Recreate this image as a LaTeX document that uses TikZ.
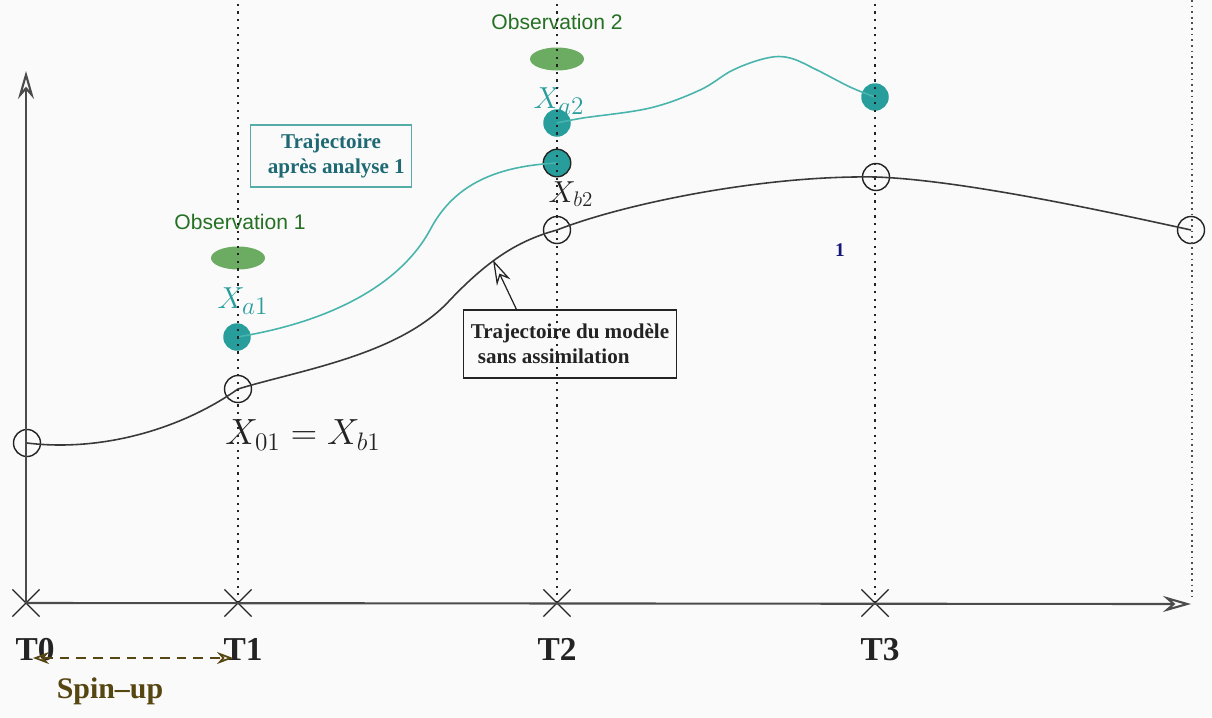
\documentclass[tikz,border=0pt]{standalone}
\usepackage[no-math]{fontspec}
\setmainfont{Liberation Serif}
\newfontfamily\obsfont{Liberation Sans}
\usepackage{tikz}
\usepackage{xcolor}
\usetikzlibrary{arrows.meta,positioning,calc,shapes.geometric,shapes.misc}
\definecolor{paper}{RGB}{250,250,250}
\definecolor{ink}{RGB}{35,35,35}
\definecolor{axisgray}{RGB}{75,75,75}
\definecolor{tealdot}{RGB}{40,158,156}
\definecolor{tealline}{RGB}{72,180,172}
\definecolor{tealtext}{RGB}{30,105,115}
\definecolor{tealframe}{RGB}{86,172,168}
\definecolor{obsfill}{RGB}{108,172,98}
\definecolor{obstext}{RGB}{38,112,36}
\definecolor{spincol}{RGB}{86,70,18}
\definecolor{navy}{RGB}{22,24,120}
\tikzset{
  axis/.style={-{Stealth[open,length=5.6mm,width=3.2mm]},line width=1.2pt,draw=axisgray},
  guide/.style={draw=ink,line width=0.8pt,dash pattern=on 1.3pt off 3pt},
  farguide/.style={draw=ink!80,line width=1pt,dash pattern=on 1pt off 2.2pt},
  timemark/.style={cross out,draw=ink,line width=0.7pt,minimum size=0.52cm,inner sep=0pt},
  timelabel/.style={inner sep=0pt,font=\fontsize{19}{22}\selectfont\bfseries,text=ink},
  bgpoint/.style={circle,draw=ink,line width=0.8pt,minimum size=0.54cm,inner sep=0pt},
  anpoint/.style={circle,fill=tealdot,minimum size=0.55cm,inner sep=0pt},
  traj/.style={draw=ink!90,line width=0.9pt},
  antraj/.style={draw=tealline,line width=0.9pt},
  obsspot/.style={ellipse,fill=obsfill,minimum width=1.08cm,minimum height=0.46cm,inner sep=0pt},
  obslabel/.style={font=\obsfont\fontsize{12}{14}\selectfont,text=obstext,inner sep=0pt},
  statelabel/.style={font=\fontsize{19}{22}\selectfont,inner sep=0pt},
  box/.style={draw,line width=0.8pt,align=left,inner sep=0pt,font=\fontsize{12}{14}\selectfont\bfseries},
  pointer/.style={-{Stealth[open,length=5mm,width=3mm]},draw=ink,line width=0.7pt},
  spinarrow/.style={{Stealth[open,length=3.2mm,width=2.4mm]}-{Stealth[open,length=3.2mm,width=2.4mm]},draw=spincol,line width=1pt,dash pattern=on 5.5pt off 4pt}
}
\begin{document}
\begin{tikzpicture}[x=0.02cm,y=-0.02cm]
  \fill[paper] (0,0) rectangle (1212,717);
  \useasboundingbox (0,0) rectangle (1212,717);

  % time axis marks
  \node[timemark] (t0) at (26,603) {};
  \node[timemark] (t1) at (238,603) {};
  \node[timemark] (t2) at (557,603) {};
  \node[timemark] (t3) at (875,603) {};
  \coordinate (xend) at (1191,604);
  \coordinate (yend) at (26,71);
  \coordinate (top) at (0,0);
  \coordinate (g4top) at (1192,0);
  \coordinate (g4bot) at (1192,596);

  \node[timelabel,below=0.42cm of t0,xshift=0.18cm] (T0) {T0};
  \node[timelabel,below=0.42cm of t1,xshift=0.1cm] (T1) {T1};
  \node[timelabel,below=0.42cm of t2] (T2) {T2};
  \node[timelabel,below=0.42cm of t3,xshift=0.1cm] (T3) {T3};

  % spin-up
  \coordinate (spinL) at (33,658);
  \coordinate (spinR) at (233,658);
  \node[font=\fontsize{17}{20}\selectfont\bfseries,text=spincol,inner sep=0pt] (spin) at (110,691) {Spin--up};

  % observations
  \node[obslabel] (obs1) at (240,222) {Observation 1};
  \node[obsspot] (e1) at (238,258) {};
  \node[obslabel] (obs2) at (557,22) {Observation 2};
  \node[obsspot] (e2) at (557,59) {};

  % labels of states
  \node[statelabel,text=tealdot] (xa1) at (243,301) {$X_{a1}$};
  \node[statelabel,text=tealdot] (xa2) at (559,101) {$X_{a2}$};
  \node[statelabel,text=ink,font=\fontsize{18}{21}\selectfont] (xb2) at (571,194) {$X_{b2}$};
  \node[statelabel,text=ink,font=\fontsize{20.74}{24}\selectfont] (x01) at (303,435) {$X_{01}=X_{b1}$};
  \node[font=\fontsize{11}{13}\selectfont\bfseries,text=navy,inner sep=0pt] (one) at (840,250) {1};

  % background trajectory points
  \node[bgpoint] (b0) at (27,443) {};
  \node[bgpoint] (b1) at (238,389) {};
  \node[bgpoint] (b2) at (557,230) {};
  \node[bgpoint] (b3) at (876,177) {};
  \node[bgpoint] (b4) at (1191,230) {};

  % analysed points
  \node[anpoint] (a1) at (237,337) {};
  \node[anpoint,draw=ink,line width=0.8pt] (a1b) at (557,163) {};
  \node[anpoint] (a2) at (557,123) {};
  \node[anpoint] (a3) at (875,97) {};

  % trajectories
  \draw[traj] (b0.center) .. controls (100,452) and (180,430) .. (b1.center)
    .. controls (300,370) and (400,355) .. (450,300)
    .. controls (490,258) and (520,240) .. (b2.center)
    .. controls (620,205) and (760,175) .. (b3.center)
    .. controls (960,180) and (1100,210) .. (b4.center);
  \draw[antraj] (a1.center) .. controls (330,322) and (400,285) .. (430,230)
    .. controls (455,182) and (500,166) .. (a1b.center);
  \draw[antraj] plot[smooth,tension=0.6] coordinates {
    (a2.center) (583,118) (650,108) (700,90) (733,70) (767,58)
    (790,58) (817,70) (850,87) (a3.center)};

  % boxes
  \node[box,draw=tealframe,text=tealtext,align=center,minimum width=3.22cm,minimum height=1.24cm] (after) at (331,156)
    {Trajectoire\\ \hspace*{6pt}après analyse 1};
  \node[box,draw=ink,text=ink,fill=paper,minimum width=4.26cm,minimum height=1.36cm] (model) at (570,344)
    {Trajectoire du modèle\\ \hspace*{4pt}sans assimilation};
  \coordinate (hit) at (493,260);
  \draw[pointer] ($(model.north west)!0.25!(model.north east)$) -- (hit);

  % guides
  \foreach \t in {t1,t2,t3}
    \draw[guide] (\t.center) -- (\t.center |- top);
  \draw[farguide] (g4top) -- (g4bot);

  % axes
  \draw[axis] (t0.center) -- (xend);
  \draw[axis] (t0.center) -- (yend);
  \draw[spinarrow] (spinL) -- (spinR);
\end{tikzpicture}
\end{document}
